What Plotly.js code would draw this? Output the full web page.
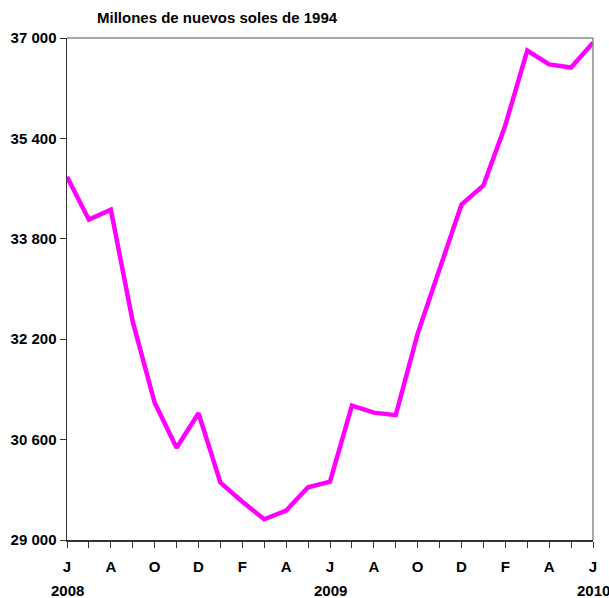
<!DOCTYPE html>
<html>
<head>
<meta charset="utf-8">
<script src="https://cdn.plot.ly/plotly-3.0.1.min.js"></script>
<style>html,body{margin:0;padding:0;background:#fff;}#chart{width:609px;height:598px;}</style>
</head>
<body>
<div id="chart"></div>
<script>
const months = ["2008-06","2008-07","2008-08","2008-09","2008-10","2008-11","2008-12",
  "2009-01","2009-02","2009-03","2009-04","2009-05","2009-06","2009-07","2009-08","2009-09",
  "2009-10","2009-11","2009-12","2010-01","2010-02","2010-03","2010-04","2010-05","2010-06"];
const values = [34790,34105,34265,32480,31186,30470,31020,29915,29610,29330,29470,29840,29930,
  31140,31030,30990,32290,33310,34345,34650,35610,36800,36580,36530,36925];
const monthLetters = ["J","J","A","S","O","N","D","E","F","M","A","M","J","J","A","S","O","N","D","E","F","M","A","M","J"];
const yearPositions = ["2008-06","2009-06","2010-06"];
const yearLabels = ["2008","2009","2010"];
const titleText = "Millones de nuevos soles de 1994";

const tickText = months.map((m,i)=> i % 2 === 0 ? monthLetters[i] : "");

const font = "'Liberation Sans', Arial, sans-serif";

const annotations = [{
  text: "<b>" + titleText + "</b>", xref: "paper", yref: "paper",
  x: 28/526, y: 1, yshift: 21, xanchor: "left", yanchor: "middle", showarrow: false,
  font: {family: font, size: 15, color: "#000"}
}];
yearPositions.forEach((m,i)=>{
  annotations.push({
    text: "<b>" + yearLabels[i] + "</b>", xref: "x", yref: "paper",
    x: m, y: 0, yshift: -50, xanchor: "center", yanchor: "middle", showarrow: false,
    font: {family: font, size: 15, color: "#000"}
  });
});

Plotly.newPlot("chart", [{
  x: months, y: values, type: "scatter", mode: "lines",
  line: {color: "#FF00FF", width: 4.5}, hoverinfo: "skip"
}], {
  width: 609, height: 598,
  margin: {l: 67, r: 16, t: 38, b: 58},
  paper_bgcolor: "#fff", plot_bgcolor: "#fff",
  separators: ", ",
  showlegend: false,
  font: {family: font, size: 15, color: "#000"},
  annotations: annotations,
  xaxis: {
    type: "category", range: [0, 24], categoryorder: "array", categoryarray: months,
    tickmode: "array", tickvals: months, ticktext: tickText,
    ticks: "outside", ticklen: 6, tickcolor: "#333", tickwidth: 1,
    ticklabelstandoff: 6,
    showline: true, linecolor: "#333", linewidth: 1.5,
    showgrid: false, zeroline: false, fixedrange: true,
    tickfont: {family: font, size: 15, color: "#000", weight: "bold"}
  },
  yaxis: {
    range: [29000, 37000], tick0: 29000, dtick: 1600, tickmode: "linear",
    tickformat: ",d",
    ticks: "outside", ticklen: 6, tickcolor: "#333", tickwidth: 1,
    showline: true, linecolor: "#333", linewidth: 1.5,
    showgrid: false, zeroline: false, fixedrange: true,
    tickfont: {family: font, size: 15, color: "#000", weight: "bold"}
  },
  shapes: [
    {type: "line", xref: "paper", yref: "paper", x0: 0, x1: 1, y0: 1, y1: 1, line: {color: "#8a8a8a", width: 1.5}},
    {type: "line", xref: "paper", yref: "paper", x0: 1, x1: 1, y0: 0, y1: 1, line: {color: "#8a8a8a", width: 1.5}}
  ]
}, {staticPlot: true});
</script>
</body>
</html>
